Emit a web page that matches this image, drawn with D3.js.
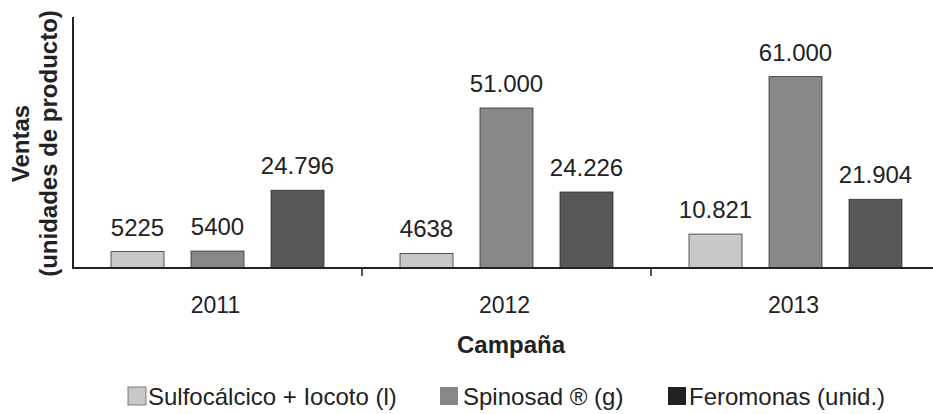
<!DOCTYPE html>
<html lang="es">
<head>
<meta charset="utf-8">
<title>Ventas por campaña</title>
<script src="https://d3js.org/d3.v7.min.js"></script>
<style>
  body { margin: 0; background: #fff; }
  text { font-family: "Liberation Sans", Arial, sans-serif; fill: #222; }
</style>
</head>
<body>
<div id="chart"></div>
<script>
// data
var campaigns = ["2011", "2012", "2013"];
var products = ["Sulfocálcico + Iocoto (l)", "Spinosad ® (g)", "Feromonas (unid.)"];
var sulfocalcico = [5225, 4638, 10821];
var spinosad = [5400, 51000, 61000];
var feromonas = [24796, 24226, 21904];
var valueLabels = [
  ["5225", "4638", "10.821"],
  ["5400", "51.000", "61.000"],
  ["24.796", "24.226", "21.904"]
];
var barColors = ["#c8c8c8", "#888888", "#575757"];
var legendColors = ["#c8c8c8", "#888888", "#222222"];

var series = [sulfocalcico, spinosad, feromonas];

var width = 933, height = 414;
var margin = {top: 17, right: -7, bottom: 146, left: 73};

var svg = d3.select("#chart").append("svg")
    .attr("width", width)
    .attr("height", height);

var x = d3.scaleBand()
    .domain(campaigns)
    .range([margin.left, width - margin.right]);

// position of the three bars inside a campaign (step 80, bar 53)
var x1 = d3.scaleBand()
    .domain(d3.range(products.length))
    .range([38, 251])
    .paddingInner(0.3375);

var y = d3.scaleLinear()
    .domain([0, 80000])
    .range([height - margin.bottom, margin.top]);

// bars
var groups = svg.append("g").selectAll("g")
  .data(campaigns)
  .enter().append("g")
    .attr("transform", function(d) { return "translate(" + x(d) + ",0)"; });

function rows(d, i) {
  return series.map(function(s, k) { return {k: k, v: s[i], lab: valueLabels[k][i]}; });
}

groups.selectAll("rect")
  .data(rows)
  .enter().append("rect")
    .attr("x", function(d) { return x1(d.k); })
    .attr("width", x1.bandwidth())
    .attr("y", function(d) { return y(d.v); })
    .attr("height", function(d) { return y(0) - y(d.v); })
    .style("fill", function(d) { return barColors[d.k]; })
    .style("stroke", "#333")
    .style("stroke-width", 0.8);

groups.selectAll("text.val")
  .data(rows)
  .enter().append("text")
    .attr("class", "val")
    .attr("x", function(d) { return x1(d.k) + x1.bandwidth() / 2; })
    .attr("y", function(d) { return y(d.v) - 16; })
    .style("text-anchor", "middle")
    .style("font-size", "24px")
    .text(function(d) { return d.lab; });

// y axis line
svg.append("line")
  .attr("x1", margin.left).attr("x2", margin.left)
  .attr("y1", margin.top).attr("y2", y(0) + 1)
  .style("stroke", "#222").style("stroke-width", 2);

// x axis
var xAxis = svg.append("g")
  .attr("transform", "translate(0," + y(0) + ")");
xAxis.append("line")
  .attr("x1", margin.left).attr("x2", width)
  .style("stroke", "#222").style("stroke-width", 2);
xAxis.selectAll("line.tick")
  .data(campaigns.slice(1))
  .enter().append("line")
    .attr("class", "tick")
    .attr("x1", function(d) { return x(d); })
    .attr("x2", function(d) { return x(d); })
    .attr("y1", 0).attr("y2", 8)
    .style("stroke", "#222").style("stroke-width", 1.5);
xAxis.selectAll("text")
  .data(campaigns)
  .enter().append("text")
    .attr("x", function(d) { return x(d) + x.bandwidth() / 2 - 2; })
    .attr("y", 45)
    .style("text-anchor", "middle")
    .style("font-size", "23px")
    .text(function(d) { return d; });

// axis titles
svg.append("text")
  .attr("x", 511).attr("y", 353)
  .style("text-anchor", "middle")
  .style("font-size", "24px")
  .style("font-weight", "bold")
  .text("Campaña");

var yTitle = svg.append("text")
  .attr("transform", "translate(29," + ((margin.top + y(0)) / 2 + 1) + ") rotate(-90)")
  .style("text-anchor", "middle")
  .style("font-size", "24px")
  .style("font-weight", "bold");
yTitle.append("tspan").attr("x", 0).attr("dy", 0).text("Ventas");
yTitle.append("tspan").attr("x", 0).attr("dy", 28).text("(unidades de producto)");

// legend
var legendX = [128, 440, 668];
var legendTextX = [20, 23, 21];
var legend = svg.append("g").selectAll("g")
  .data(products)
  .enter().append("g")
    .attr("transform", function(d, i) { return "translate(" + legendX[i] + ",387)"; });
legend.append("rect")
  .attr("width", 18).attr("height", 18)
  .style("fill", function(d, i) { return legendColors[i]; })
  .style("stroke", function(d, i) { return i === 0 ? "#666" : "none"; })
  .style("stroke-width", 0.8);
legend.append("text")
  .attr("x", function(d, i) { return legendTextX[i]; })
  .attr("y", 18)
  .style("font-size", "24px")
  .text(function(d) { return d; });
</script>
</body>
</html>
